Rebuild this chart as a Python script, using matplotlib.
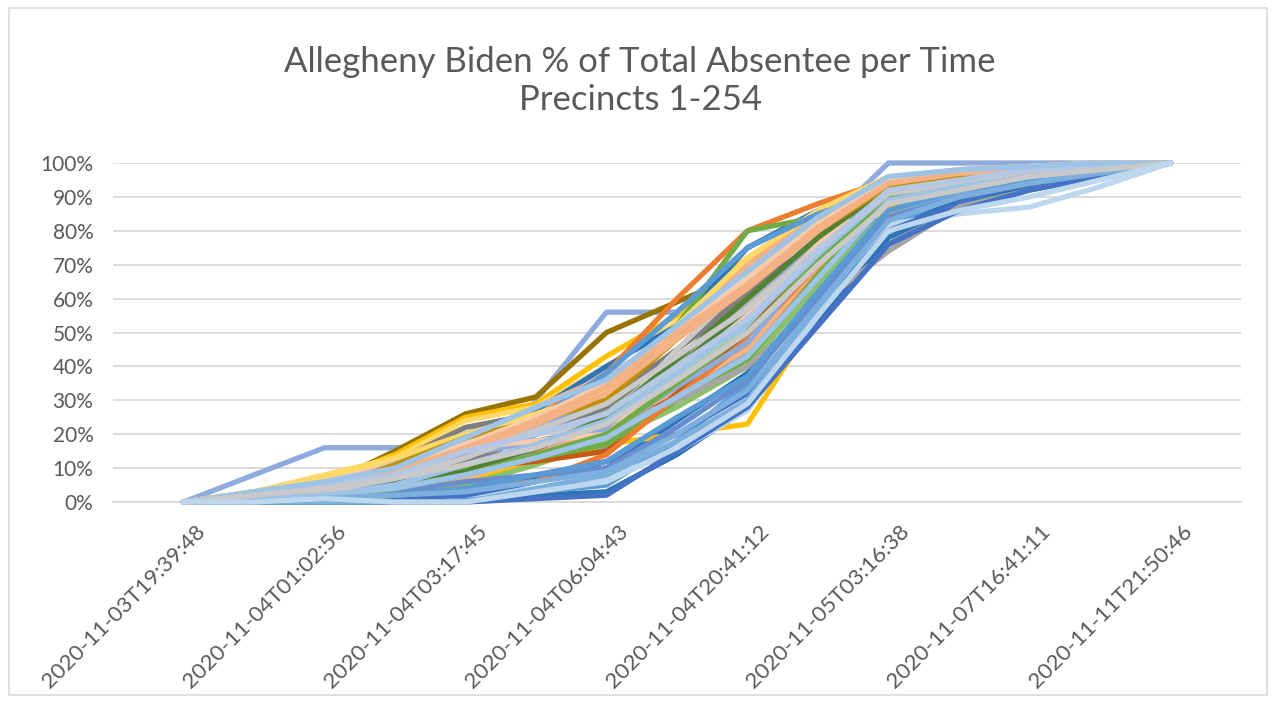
import matplotlib
matplotlib.use("Agg")
import matplotlib.pyplot as plt
from matplotlib.ticker import PercentFormatter
from matplotlib.transforms import ScaledTranslation
from matplotlib.patches import Rectangle

plt.rcParams['font.family'] = ['Lato', 'DejaVu Sans']

# 15 time snapshots; Excel only labels every second one
n_snapshots = 15
tick_labels = ['2020-11-03T19:39:48', '2020-11-04T01:02:56', '2020-11-04T03:17:45',
               '2020-11-04T06:04:43', '2020-11-04T20:41:12', '2020-11-05T03:16:38',
               '2020-11-07T16:41:11', '2020-11-11T21:50:46']

# Biden share of precinct total absentee per snapshot (percent)
precinct_pct = [
    [0, 8, 16, 16, 17, 22, 30, 42, 58, 78, 95, 98, 99, 100, 100],
    [0, 0, 1, 1, 1, 30, 56, 56, 58, 80, 100, 100, 100, 100, 100],
    [0, 2, 5, 15, 26, 31, 50, 59, 68, 82, 93, 96, 98, 99, 100],
    [0, 2, 6, 14, 25, 29, 43, 55, 72, 85, 95, 97, 99, 100, 100],
    [0, 3, 8, 13, 24, 28, 40, 53, 68, 83, 92, 96, 98, 99, 100],
    [0, 2, 4, 10, 20, 27, 40, 52, 75, 86, 95, 97, 99, 100, 100],
    [0, 1, 3, 8, 16, 25, 38, 60, 80, 88, 95, 98, 99, 100, 100],
    [0, 1, 3, 7, 14, 20, 30, 52, 80, 84, 87, 92, 95, 98, 100],
    [0, 2, 5, 11, 18, 28, 37, 50, 70, 85, 95, 97, 98, 99, 100],
    [0, 1, 3, 12, 22, 26, 30, 45, 60, 80, 93, 96, 98, 99, 100],
    [0, 1, 2, 6, 12, 20, 28, 42, 55, 76, 93, 95, 97, 99, 100],
    [0, 2, 4, 9, 15, 20, 25, 37, 50, 72, 76, 89, 93, 97, 100],
    [0, 1, 2, 5, 10, 16, 22, 38, 55, 72, 85, 92, 96, 98, 100],
    [0, 3, 6, 11, 17, 22, 26, 42, 58, 75, 88, 93, 97, 99, 100],
    [0, 3, 7, 12, 18, 21, 24, 38, 52, 73, 90, 94, 97, 99, 100],
    [0, 2, 4, 8, 12, 20, 27, 38, 50, 72, 88, 93, 96, 98, 100],
    [0, 0, 1, 3, 7, 12, 20, 32, 45, 68, 85, 92, 96, 98, 100],
    [0, 0, 1, 4, 8, 12, 16, 30, 44, 64, 82, 90, 94, 97, 100],
    [0, 1, 2, 6, 13, 15, 18, 33, 47, 70, 88, 94, 97, 99, 100],
    [0, 1, 3, 5, 9, 14, 20, 30, 40, 65, 86, 92, 96, 98, 100],
    [0, 0, 1, 2, 5, 7, 10, 24, 38, 60, 80, 89, 93, 97, 100],
    [0, 0, 1, 3, 6, 12, 17, 20, 23, 55, 87, 93, 96, 98, 100],
    [0, 0, 0, 0, 1, 2, 3, 14, 28, 53, 78, 88, 93, 97, 100],
    [0, 0, 0, 1, 1, 3, 5, 18, 35, 62, 90, 94, 97, 99, 100],
    [0, 0, 1, 1, 2, 4, 7, 15, 27, 55, 82, 85, 87, 93, 100],
    [0, 0, 1, 1, 2, 6, 12, 20, 32, 56, 80, 88, 95, 98, 100],
    [0, 1, 2, 4, 7, 14, 22, 33, 45, 70, 90, 94, 97, 99, 100],
    [0, 0, 1, 2, 5, 11, 18, 28, 40, 64, 86, 92, 96, 98, 100],
    [0, 1, 2, 6, 12, 20, 28, 45, 62, 80, 92, 95, 98, 99, 100],
    [0, 3, 6, 12, 18, 20, 23, 45, 65, 78, 88, 93, 96, 98, 100],
    [0, 0, 1, 4, 10, 12, 15, 32, 50, 73, 92, 95, 98, 99, 100],
    [0, 3, 7, 13, 20, 26, 33, 52, 72, 86, 96, 98, 99, 100, 100],
    [0, 1, 2, 7, 14, 24, 38, 56, 75, 85, 92, 95, 98, 99, 100],
    [0, 0, 2, 5, 10, 13, 17, 30, 42, 67, 90, 94, 97, 99, 100],
    [0, 0, 1, 2, 4, 6, 14, 31, 48, 70, 90, 94, 97, 99, 100],
    [0, 2, 4, 8, 14, 18, 22, 30, 40, 58, 74, 87, 92, 96, 100],
    [0, 0, 0, 0, 0, 1, 2, 15, 28, 52, 76, 86, 92, 96, 100],
    [0, 0, 0, 0, 0, 4, 8, 18, 30, 57, 84, 91, 95, 98, 100],
    [0, 0, 1, 3, 6, 8, 10, 22, 36, 60, 84, 90, 94, 97, 100],
    [0, 2, 5, 9, 14, 18, 21, 34, 47, 72, 94, 97, 99, 100, 100],
    [0, 3, 6, 11, 16, 18, 20, 38, 55, 76, 95, 97, 99, 100, 100],
    [0, 1, 2, 5, 9, 16, 25, 42, 60, 78, 93, 96, 98, 99, 100],
    [0, 2, 4, 11, 19, 24, 30, 48, 65, 80, 93, 96, 98, 99, 100],
    [0, 0, 1, 4, 8, 14, 20, 35, 50, 71, 90, 94, 97, 99, 100],
    [0, 1, 3, 8, 15, 23, 32, 48, 63, 80, 94, 97, 98, 99, 100],
    [0, 1, 2, 5, 11, 17, 24, 38, 53, 73, 91, 94, 97, 99, 100],
    [0, 2, 5, 10, 17, 25, 35, 50, 66, 82, 95, 98, 99, 100, 100],
    [0, 0, 1, 2, 4, 8, 12, 25, 37, 62, 86, 92, 95, 98, 100],
    [0, 1, 3, 7, 13, 21, 29, 43, 57, 75, 91, 94, 97, 99, 100],
    [0, 1, 2, 4, 8, 13, 19, 31, 43, 66, 89, 93, 96, 98, 100],
    [0, 2, 4, 9, 16, 24, 34, 50, 64, 81, 94, 97, 98, 99, 100],
    [0, 0, 1, 2, 3, 6, 9, 20, 33, 58, 83, 90, 94, 97, 100],
    [0, 2, 5, 8, 15, 20, 26, 40, 54, 74, 92, 95, 98, 99, 100],
    [0, 3, 6, 10, 19, 28, 36, 52, 68, 84, 96, 98, 99, 100, 100],
    [0, 2, 4, 7, 11, 16, 23, 36, 50, 70, 88, 92, 96, 98, 100],
    [0, 0, 1, 0, 0, 3, 6, 16, 29, 55, 80, 86, 90, 95, 100],
]

# Excel office palette cycle (many light tints end up on top)
palette = ['#8FAADC', '#8FAADC', '#997300', '#FFC000', '#FFD966', '#2E75B6',
           '#ED7D31', '#70AD47', '#F4B183', '#7F7F7F', '#548235', '#A5A5A5',
           '#4472C4', '#B7B7B7', '#9DC3E6', '#A9D18E', '#F1975A', '#5B9BD5',
           '#C55A11', '#7CAFDD', '#2E75B6', '#FFC000', '#2E75B6', '#5B9BD5',
           '#BDD7EE', '#4472C4', '#F4B183', '#8CC168', '#7F7F7F', '#C9C9C9',
           '#C55A11', '#FFD966', '#5B9BD5', '#70AD47', '#ED7D31', '#A5A5A5',
           '#4472C4', '#7CAFDD', '#698ED0', '#8FAADC', '#F8CBAD', '#548235',
           '#BF9000', '#70AD47', '#F4B183', '#9DC3E6', '#F8CBAD', '#5B9BD5',
           '#C9C9C9', '#9DC3E6', '#F4B183', '#7CAFDD', '#B4C7E7', '#9DC3E6',
           '#C9C9C9', '#BDD7EE']

fig = plt.figure(figsize=(12.75, 7.02), dpi=100)
ax = fig.add_axes([0.0886, 0.2849, 0.8847, 0.4829])

x = list(range(n_snapshots))
for i, vals in enumerate(precinct_pct):
    ax.plot(x, [v / 100 for v in vals], color=palette[i % len(palette)],
            lw=3.8, solid_joinstyle='round', solid_capstyle='round',
            clip_on=False, zorder=3)

ax.set_xlim(-1, n_snapshots)
ax.set_ylim(0, 1)
ax.set_yticks([i / 10 for i in range(11)])
ax.yaxis.set_major_formatter(PercentFormatter(1.0, decimals=0))
ax.grid(axis='y', color='#D9D9D9', lw=1.3, zorder=0)
ax.set_axisbelow(True)
for s in ['top', 'right', 'left']:
    ax.spines[s].set_visible(False)
ax.spines['bottom'].set_color('#D9D9D9')
ax.spines['bottom'].set_linewidth(1.3)

ax.set_xticks(x[::2])
ax.set_xticklabels(tick_labels, rotation=45, ha='right', va='top', rotation_mode='anchor')
ax.tick_params(axis='both', length=0, labelsize=15, labelcolor='#595959')
ax.tick_params(axis='x', labelsize=16, pad=14)
ax.tick_params(axis='y', pad=14)
offset = ScaledTranslation(8 / 72, 0, fig.dpi_scale_trans)
for lab in ax.get_xticklabels():
    lab.set_transform(lab.get_transform() + offset)

fig.text(0.502, 0.912, 'Allegheny Biden % of Total Absentee per Time',
         ha='center', va='center', fontsize=25, color='#595959')
fig.text(0.502, 0.858, 'Precincts 1-254', ha='center', va='center',
         fontsize=25, color='#595959')

fig.patches.append(Rectangle((0.007, 0.01), 0.987, 0.978, transform=fig.transFigure,
                             fill=False, edgecolor='#D9D9D9', lw=1.2))

fig.savefig('out.png', dpi=100, facecolor='white')
